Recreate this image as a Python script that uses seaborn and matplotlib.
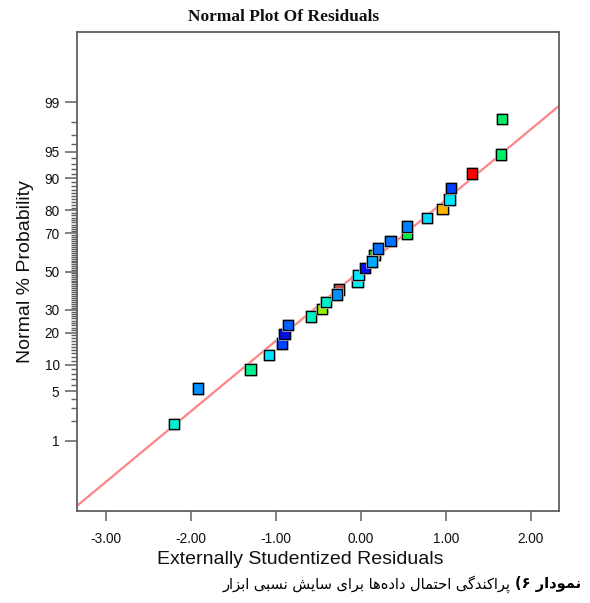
import numpy as np
import pandas as pd
import seaborn as sns
import matplotlib
matplotlib.use("Agg")
import matplotlib.pyplot as plt
import matplotlib.patheffects as pe
from statistics import NormalDist

# ---------------- data ----------------
residuals = [-0.26, -2.20, -1.92, -1.30, -1.08, -0.93, -0.90, -0.86, -0.59, -0.46,
             -0.41, -0.28, -0.04, -0.03, 0.05, 0.16, 0.13, 0.20, 0.35, 0.54,
             0.54, 0.78, 0.96, 1.04, 1.06, 1.31, 1.65, 1.66]
probabilities = [40.3, 1.8, 5.4, 8.9, 12.5, 16.1, 19.6, 23.2, 26.8, 30.4,
                 33.9, 37.5, 44.6, 48.2, 51.8, 58.9, 55.4, 62.5, 66.1, 69.6,
                 73.2, 76.8, 80.4, 83.9, 87.5, 91.1, 94.6, 98.2]
point_colors = ['#c05050', '#00f0d0', '#0090ff', '#00f090', '#00e0ff', '#0040ff',
                '#0010e0', '#0060ff', '#00f0c0', '#90f000', '#00f0c8', '#0090ff',
                '#00f0f0', '#00e8ff', '#0010ff', '#20d020', '#00a8ff', '#0070ff',
                '#0070ff', '#00ee44', '#0080ff', '#00d8ff', '#ffb400', '#00e8ff',
                '#0040ff', '#ff0000', '#00ee66', '#00ee66']
fit_slope = 0.969
fit_intercept = 0.017
x_range = [-3.34, 2.33]
prob_range = [0.05, 99.95]
major_probs = [1, 5, 10, 20, 30, 50, 70, 80, 90, 95, 99]
minor_probs = [p for p in range(2, 99) if p not in major_probs]
x_ticks = [-3, -2, -1, 0, 1, 2]

title_text = "Normal Plot Of Residuals"
x_label = "Externally Studentized Residuals"
y_label = "Normal % Probability"
caption_bold = "نمودار ۶)"
caption_rest = "پراکندگی احتمال داده‌ها برای سایش نسبی ابزار"

# ---------------- Persian shaping (matplotlib has no bidi/shaping) ----------------
FORMS = {
    'ا': (0xFE8D, 0xFE8E, None, None), 'ب': (0xFE8F, 0xFE90, 0xFE91, 0xFE92),
    'پ': (0xFB56, 0xFB57, 0xFB58, 0xFB59), 'ت': (0xFE95, 0xFE96, 0xFE97, 0xFE98),
    'ح': (0xFEA1, 0xFEA2, 0xFEA3, 0xFEA4), 'د': (0xFEA9, 0xFEAA, None, None),
    'ر': (0xFEAD, 0xFEAE, None, None), 'ز': (0xFEAF, 0xFEB0, None, None),
    'س': (0xFEB1, 0xFEB2, 0xFEB3, 0xFEB4), 'ش': (0xFEB5, 0xFEB6, 0xFEB7, 0xFEB8),
    'ک': (0xFB8E, 0xFB8F, 0xFB90, 0xFB91), 'گ': (0xFB92, 0xFB93, 0xFB94, 0xFB95),
    'ل': (0xFEDD, 0xFEDE, 0xFEDF, 0xFEE0), 'م': (0xFEE1, 0xFEE2, 0xFEE3, 0xFEE4),
    'ن': (0xFEE5, 0xFEE6, 0xFEE7, 0xFEE8), 'ه': (0xFEE9, 0xFEEA, 0xFEEB, 0xFEEC),
    'و': (0xFEED, 0xFEEE, None, None), 'ی': (0xFBFC, 0xFBFD, 0xFBFE, 0xFBFF),
}
MIRROR = {'(': ')', ')': '('}


def shape_rtl(text):
    out = []
    for i, ch in enumerate(text):
        if ch not in FORMS:
            out.append(ch)
            continue
        prev = text[i - 1] if i > 0 else ''
        nxt = text[i + 1] if i + 1 < len(text) else ''
        jp = prev in FORMS and FORMS[prev][2] is not None
        jn = FORMS[ch][2] is not None and nxt in FORMS
        iso, fin, ini, med = FORMS[ch]
        code = med if (jp and jn) else fin if jp else ini if jn else iso
        out.append(chr(code))
    s = ''.join(c for c in out if c != '\u200c')
    return ''.join(MIRROR.get(c, c) for c in s[::-1])


# ---------------- probability scale ----------------
_nd = NormalDist()
_ppf = np.vectorize(lambda p: _nd.inv_cdf(min(max(p / 100.0, 1e-9), 1 - 1e-9)))
_cdf = np.vectorize(lambda z: _nd.cdf(z) * 100.0)


def fwd(p):
    return _ppf(np.asarray(p, dtype=float))


def inv(z):
    return _cdf(np.asarray(z, dtype=float))


# ---------------- figure ----------------
sns.set_theme(style="white")
plt.rcParams['font.family'] = ['Liberation Sans', 'DejaVu Sans']

W, H = 590, 603
fig = plt.figure(figsize=(W / 100, H / 100), dpi=100)
ax = fig.add_axes([77 / W, 1 - 511 / H, (559 - 77) / W, (511 - 32) / H])

df = pd.DataFrame({"res": residuals, "prob": probabilities,
                   "pid": [f"p{i}" for i in range(len(residuals))]})
pal = dict(zip(df["pid"], point_colors))

# fitted line
line_z = [fit_slope * x + fit_intercept for x in x_range]
line_p = [float(inv(z)) for z in line_z]
ax.plot(x_range, line_p, color="#ff8585", lw=1.6, zorder=2, solid_capstyle="butt")

sns.scatterplot(data=df, x="res", y="prob", hue="pid", palette=pal, marker="s",
                s=56, edgecolor="black", linewidth=0.9, legend=False, ax=ax, zorder=3)
for coll in ax.collections:
    coll.set_path_effects([pe.withStroke(linewidth=2.0, foreground="#b8b8b8")])

ax.set_yscale("function", functions=(fwd, inv))
ax.set_ylim(*prob_range)
ax.set_xlim(*x_range)

ax.set_yticks(major_probs)
ax.set_yticklabels([str(p) for p in major_probs])
ax.set_yticks(minor_probs, minor=True)
ax.set_xticks(x_ticks)
ax.set_xticklabels([f"{v:.2f}" for v in x_ticks])

spine_col = "#606060"
for s in ax.spines.values():
    s.set_color(spine_col)
    s.set_linewidth(1.3)
    s.set_visible(True)

ax.tick_params(axis="y", which="major", direction="out", length=8.6, width=1.1,
               color=spine_col, labelsize=9.8, pad=4, left=True, labelcolor="#111111")
ax.tick_params(axis="y", which="minor", direction="out", length=4.3, width=1.0,
               color=spine_col, left=True)
ax.tick_params(axis="x", which="major", direction="out", length=7.5, width=1.1,
               color=spine_col, labelsize=9.8, pad=7.5, bottom=True, labelcolor="#111111")
ax.tick_params(axis="x", which="minor", bottom=False)

ax.set_xlabel(x_label, fontsize=14, color="#111111")
ax.set_ylabel(y_label, fontsize=14, color="#111111")
ax.xaxis.label.set_va("center")
ax.xaxis.set_label_coords((300 - 77) / 482, (511 - 559) / 479)
ax.yaxis.label.set_va("center")
ax.yaxis.set_label_coords((26 - 77) / 482, 0.5)

fig.text(284 / W, 1 - 17 / H, title_text, family=["Liberation Serif", "DejaVu Serif"],
         weight="bold", fontsize=12.5, ha="center", va="center", color="#111111")

# caption (RTL): bold part at right, regular text to its left
cap_y = 1 - 584 / H
tb = fig.text(581 / W, cap_y, shape_rtl(caption_bold), family=["DejaVu Sans"],
              weight="bold", fontsize=10.5, ha="right", va="center", color="black")
renderer = fig.canvas.get_renderer()
bb = tb.get_window_extent(renderer=renderer)
fig.text((bb.x0 - 4) / W, cap_y, shape_rtl(caption_rest), family=["DejaVu Sans"],
         fontsize=10.5, ha="right", va="center", color="black")

fig.savefig("out.png", dpi=100)
